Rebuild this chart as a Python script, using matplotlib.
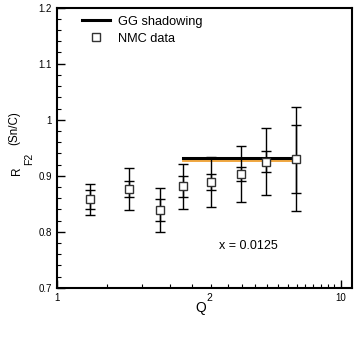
import numpy as np
import matplotlib
matplotlib.use("Agg")
import matplotlib.pyplot as plt
from matplotlib.ticker import FixedLocator, NullFormatter

plt.rcParams['font.family'] = ['Liberation Sans', 'DejaVu Sans']

# NMC data
q2 = [1.31, 1.80, 2.30, 2.79, 3.49, 4.47, 5.47, 6.95]
ratio = [0.858, 0.876, 0.839, 0.881, 0.889, 0.903, 0.925, 0.930]
err_tot = [0.028, 0.037, 0.040, 0.040, 0.045, 0.050, 0.060, 0.092]
err_stat = [0.017, 0.014, 0.019, 0.019, 0.015, 0.013, 0.019, 0.060]

# GG shadowing curves
gg_q2 = [2.79, 6.95]
gg_black = [0.931, 0.931]
gg_orange = [0.926, 0.926]

W, H = 360, 346
fig = plt.figure(figsize=(3.6, 3.46), dpi=100)
ax = fig.add_axes([0.158, 0.168, 0.821, 0.810])

ax.plot(gg_q2, gg_orange, color='#f0a030', lw=1.3, zorder=2)
ax.plot(gg_q2, gg_black, color='black', lw=2.2, zorder=3, label='GG shadowing')

ax.errorbar(q2, ratio, yerr=err_tot, fmt='none', ecolor='black', elinewidth=1.0,
            capsize=3.5, capthick=1.0, zorder=4)
ax.errorbar(q2, ratio, yerr=err_stat, fmt='none', ecolor='black', elinewidth=1.0,
            capsize=3.5, capthick=1.0, zorder=4)
ax.plot(q2, ratio, 's', ms=5.5, mfc='white', mec='#333333', mew=1.0, ls='none',
        zorder=5, label='NMC data')

ax.set_xscale('log')
ax.set_xlim(1, 11)
ax.set_ylim(0.7, 1.2)

ax.xaxis.set_major_locator(FixedLocator([1, 10]))
ax.set_xticklabels(['1', '10'])
ax.xaxis.set_minor_locator(FixedLocator(np.arange(1.5, 10, 0.5)))
ax.xaxis.set_minor_formatter(NullFormatter())
ax.yaxis.set_major_locator(FixedLocator([0.7, 0.8, 0.9, 1.0, 1.1, 1.2]))
ax.set_yticklabels(['0.7', '0.8', '0.9', '1', '1.1', '1.2'])
ax.yaxis.set_minor_locator(FixedLocator(np.arange(0.72, 1.2, 0.02)))

ax.tick_params(which='both', direction='in', top=False, right=False, labelsize=7)
ax.tick_params(which='major', length=6, width=1.0)
ax.tick_params(which='minor', length=3, width=0.8)
ax.tick_params(axis='x', pad=4)
ax.tick_params(axis='y', pad=3.5)
for s in ax.spines.values():
    s.set_linewidth(1.5)

leg = ax.legend(loc='upper left', bbox_to_anchor=(0.045, 1.012), frameon=False,
                fontsize=9.2, handlelength=2.2, handletextpad=0.65, labelspacing=0.4)

ax.text(3.74, 0.774, 'x = 0.0125', fontsize=9, ha='left', va='center')

# x label: Q^2
fig.text(195 / W, 1 - 312 / H, 'Q', fontsize=10, ha='left', va='baseline')
fig.text(206.5 / W, 1 - 301 / H, '2', fontsize=7.5, ha='left', va='baseline')

# y label: R_F2^(Sn/C)
fig.text(20 / W, 1 - 175 / H, 'R', fontsize=8.5, rotation=90, rotation_mode='anchor',
         ha='left', va='baseline')
fig.text(32.3 / W, 1 - 165 / H, 'F2', fontsize=7.5, rotation=90, rotation_mode='anchor',
         ha='left', va='baseline')
fig.text(17.3 / W, 1 - 145 / H, '(Sn/C)', fontsize=8.4, rotation=90, rotation_mode='anchor',
         ha='left', va='baseline')

fig.savefig('out.png', dpi=100)
